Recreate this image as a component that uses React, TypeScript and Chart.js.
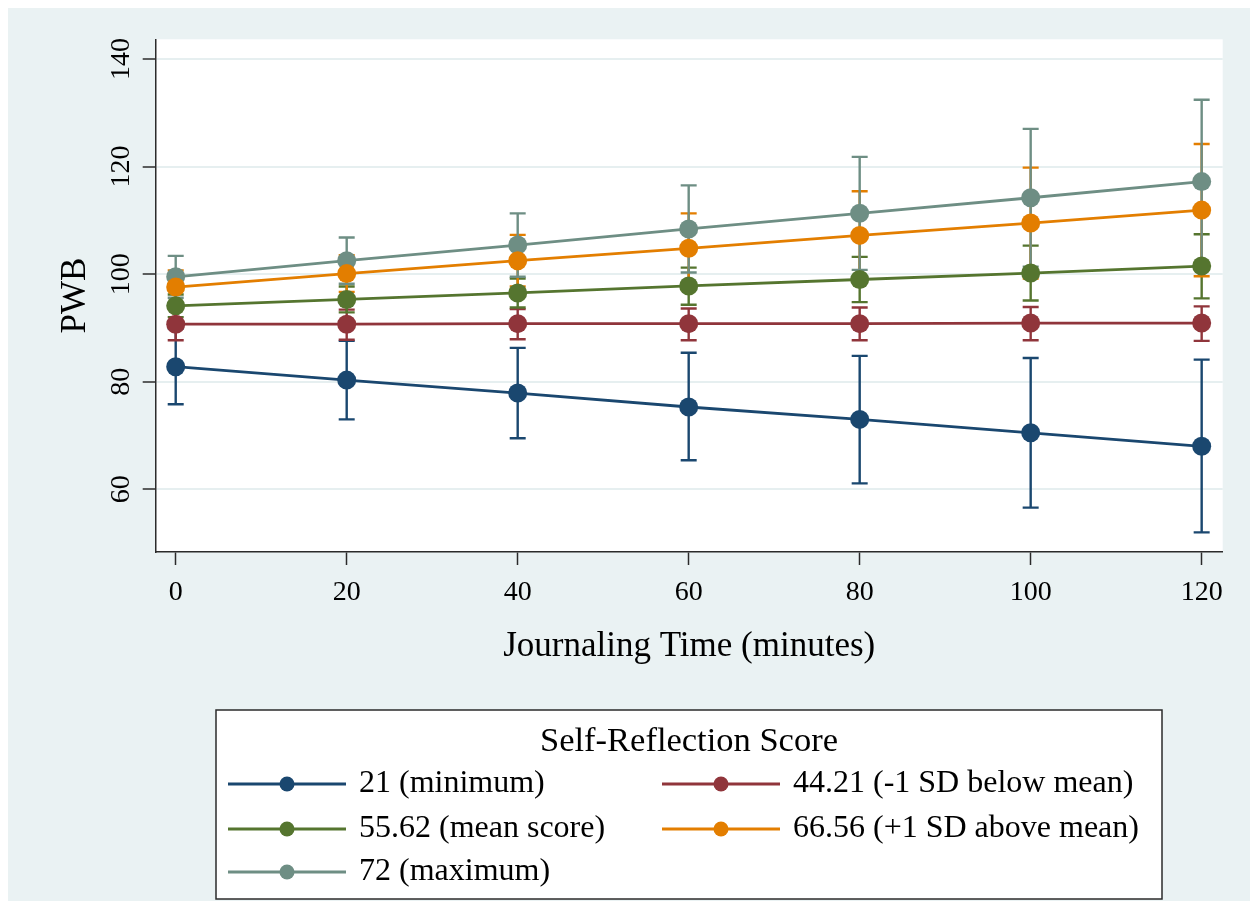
import { useEffect, useRef } from "react";
import { Chart, registerables } from "chart.js";

Chart.register(...registerables);

const FONT = "'Liberation Serif', 'Times New Roman', serif";

const times = [0, 20, 40, 60, 80, 100, 120];
const xTickValues = [0, 20, 40, 60, 80, 100, 120];
const yTickValues = [60, 80, 100, 120, 140];

const seriesLabels = [
  "21 (minimum)",
  "44.21 (-1 SD below mean)",
  "55.62 (mean score)",
  "66.56 (+1 SD above mean)",
  "72 (maximum)",
];
const seriesColors = ["#1A476F", "#90353B", "#55752F", "#E37E00", "#6E8E84"];

// Predicted PWB (margins) and 95% CI bounds
const minMean = [82.8, 80.3, 77.9, 75.3, 73.0, 70.5, 68.0];
const minLow = [75.8, 73.0, 69.5, 65.4, 61.1, 56.6, 52.0];
const minHigh = [89.9, 87.6, 86.3, 85.4, 84.8, 84.4, 84.1];

const lowSdMean = [90.7, 90.7, 90.8, 90.8, 90.8, 90.9, 90.9];
const lowSdLow = [87.7, 87.8, 87.9, 87.7, 87.7, 87.7, 87.6];
const lowSdHigh = [93.5, 93.4, 93.5, 93.6, 93.8, 93.9, 94.0];

const meanMean = [94.1, 95.3, 96.5, 97.8, 99.0, 100.2, 101.5];
const meanLow = [92.0, 92.9, 93.8, 94.3, 94.8, 95.1, 95.5];
const meanHigh = [96.2, 97.7, 99.2, 101.2, 103.2, 105.3, 107.4];

const highSdMean = [97.6, 100.1, 102.5, 104.8, 107.2, 109.5, 111.9];
const highSdLow = [94.5, 96.7, 97.7, 98.3, 99.0, 99.2, 99.6];
const highSdHigh = [100.7, 103.5, 107.3, 111.3, 115.4, 119.8, 124.2];

const maxMean = [99.5, 102.5, 105.4, 108.4, 111.3, 114.2, 117.2];
const maxLow = [95.6, 98.2, 99.5, 100.3, 100.8, 101.4, 102.0];
const maxHigh = [103.4, 106.8, 111.3, 116.5, 121.8, 127.0, 132.4];

const allMeans = [minMean, lowSdMean, meanMean, highSdMean, maxMean];
const allLows = [minLow, lowSdLow, meanLow, highSdLow, maxLow];
const allHighs = [minHigh, lowSdHigh, meanHigh, highSdHigh, maxHigh];

const BG = "#EAF2F3";
const AXIS = "#2b2b2b";

const backgroundPlugin = {
  id: "stataBg",
  beforeDraw(chart: any) {
    const { ctx, chartArea } = chart;
    ctx.save();
    ctx.fillStyle = BG;
    ctx.fillRect(0, 0, chart.width, chart.height);
    ctx.fillStyle = "#ffffff";
    ctx.fillRect(chartArea.left, chartArea.top, chartArea.right - chartArea.left, chartArea.bottom - chartArea.top);
    ctx.restore();
  },
};

const errorBarPlugin = {
  id: "errorBars",
  beforeDatasetsDraw(chart: any) {
    const { ctx } = chart;
    const xs = chart.scales.x;
    const ys = chart.scales.y;
    ctx.save();
    ctx.lineWidth = 2.4;
    chart.data.datasets.forEach((ds: any, di: number) => {
      ctx.strokeStyle = ds.borderColor;
      times.forEach((t, i) => {
        const px = xs.getPixelForValue(t);
        const pl = ys.getPixelForValue(allLows[di][i]);
        const ph = ys.getPixelForValue(allHighs[di][i]);
        ctx.beginPath();
        ctx.moveTo(px, pl);
        ctx.lineTo(px, ph);
        ctx.moveTo(px - 8, pl);
        ctx.lineTo(px + 8, pl);
        ctx.moveTo(px - 8, ph);
        ctx.lineTo(px + 8, ph);
        ctx.stroke();
      });
    });
    ctx.restore();
  },
};

const yLabelPlugin = {
  id: "yRotatedLabels",
  afterDraw(chart: any) {
    const { ctx } = chart;
    const ys = chart.scales.y;
    ctx.save();
    ctx.fillStyle = "#000";
    ctx.font = `28px ${FONT}`;
    ctx.textAlign = "center";
    ctx.textBaseline = "middle";
    ys.ticks.forEach((tk: any) => {
      const py = ys.getPixelForValue(tk.value);
      ctx.save();
      ctx.translate(113.5, py);
      ctx.rotate(-Math.PI / 2);
      ctx.fillText(String(tk.value), 0, 0);
      ctx.restore();
    });
    ctx.restore();
  },
};

const legendPlugin = {
  id: "stataLegend",
  afterDraw(chart: any) {
    const { ctx } = chart;
    const left = 208, top = 702, right = 1154, bottom = 891;
    ctx.save();
    ctx.fillStyle = "#ffffff";
    ctx.fillRect(left, top, right - left, bottom - top);
    ctx.strokeStyle = AXIS;
    ctx.lineWidth = 1.5;
    ctx.strokeRect(left, top, right - left, bottom - top);

    ctx.fillStyle = "#000";
    ctx.textBaseline = "middle";
    ctx.textAlign = "center";
    ctx.font = `34.5px ${FONT}`;
    ctx.fillText("Self-Reflection Score", 681, 734);

    const rowsY = [776, 821, 864];
    const colsX = [220, 654];
    ctx.font = `32px ${FONT}`;
    ctx.textAlign = "left";
    chart.data.datasets.forEach((ds: any, i: number) => {
      const row = Math.floor(i / 2);
      const col = i % 2;
      const y = rowsY[row];
      const x0 = colsX[col];
      ctx.strokeStyle = ds.borderColor;
      ctx.lineWidth = 2.8;
      ctx.beginPath();
      ctx.moveTo(x0, y);
      ctx.lineTo(x0 + 118, y);
      ctx.stroke();
      ctx.fillStyle = ds.borderColor;
      ctx.beginPath();
      ctx.arc(x0 + 59, y, 7.5, 0, Math.PI * 2);
      ctx.fill();
      ctx.fillStyle = "#000";
      ctx.fillText(ds.label, x0 + 131, y);
    });
    ctx.restore();
  },
};

export default function App() {
  const canvasRef = useRef<HTMLCanvasElement | null>(null);

  useEffect(() => {
    if (!canvasRef.current) return;
    const datasets = seriesLabels.map((label, si) => ({
      label,
      data: times.map((t, i) => ({ x: t, y: allMeans[si][i] })),
      borderColor: seriesColors[si],
      backgroundColor: seriesColors[si],
      pointBackgroundColor: seriesColors[si],
      pointBorderWidth: 0,
      pointRadius: 9.5,
      borderWidth: 2.8,
      tension: 0,
      fill: false,
    }));

    const chart = new Chart(canvasRef.current, {
      type: "line",
      data: { datasets },
      options: {
        responsive: false,
        animation: false,
        devicePixelRatio: 1,
        layout: { padding: { left: 7.7, top: 31.3, right: 27.3, bottom: 229 } },
        plugins: {
          legend: { display: false },
          tooltip: { enabled: false },
        },
        scales: {
          x: {
            type: "linear",
            min: -2.34,
            max: 122.46,
            afterBuildTicks: (s: any) => {
              s.ticks = xTickValues.map((v) => ({ value: v }));
            },
            afterFit: (s: any) => {
              s.height = 120;
            },
            grid: {
              drawOnChartArea: false,
              drawTicks: true,
              tickLength: 13,
              tickColor: AXIS,
              tickWidth: 1.5,
            },
            border: { display: true, color: AXIS, width: 1.5 },
            ticks: {
              font: { family: FONT, size: 28 },
              color: "#000",
              padding: 10.7,
              maxRotation: 0,
              autoSkip: false,
            },
            title: {
              display: true,
              text: "Journaling Time (minutes)",
              font: { family: FONT, size: 35 },
              color: "#000",
              padding: { top: 0, bottom: 4 },
            },
          },
          y: {
            type: "linear",
            min: 48.35,
            max: 143.65,
            afterBuildTicks: (s: any) => {
              s.ticks = yTickValues.map((v) => ({ value: v }));
            },
            afterFit: (s: any) => {
              s.width = 140;
            },
            grid: {
              color: "#E6EFF0",
              lineWidth: 2,
              drawTicks: true,
              tickLength: 13,
              tickColor: AXIS,
              tickWidth: 1.5,
            },
            border: { display: true, color: AXIS, width: 1.5 },
            ticks: { display: false },
            title: {
              display: true,
              text: "PWB",
              font: { family: FONT, size: 35 },
              color: "#000",
              padding: { top: 39, bottom: 0 },
            },
          },
        },
      },
      plugins: [backgroundPlugin, errorBarPlugin, yLabelPlugin, legendPlugin],
    } as any);

    return () => chart.destroy();
  }, []);

  return (
    <div style={{ position: "absolute", left: 8, top: 8, width: 1242, height: 893 }}>
      <canvas ref={canvasRef} width={1242} height={893} style={{ display: "block" }} />
    </div>
  );
}
